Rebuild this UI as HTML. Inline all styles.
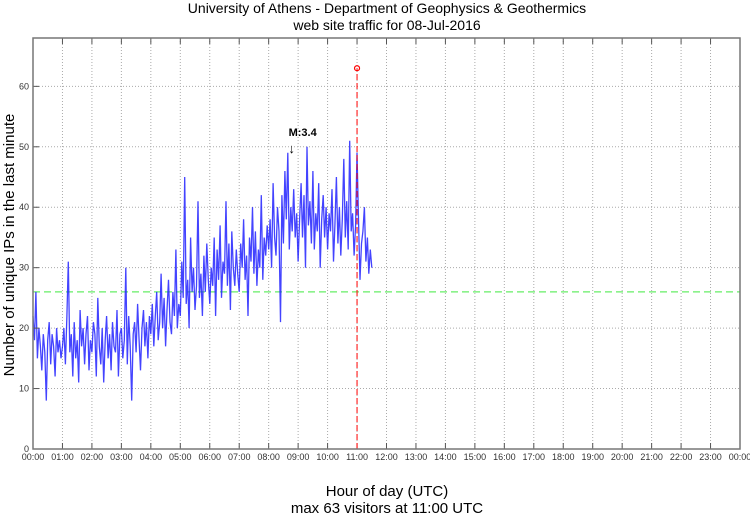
<!DOCTYPE html>
<html><head><meta charset="utf-8"><style>
body{margin:0;background:#fff;}
svg{display:block;font-family:"Liberation Sans",sans-serif;}
</style></head><body>
<svg id="chart" width="750" height="515">
<text x="387" y="13" font-size="14" text-anchor="middle">University of Athens - Department of Geophysics &amp; Geothermics</text>
<text x="387" y="30" font-size="14" text-anchor="middle">web site traffic for 08-Jul-2016</text>
<text transform="translate(14,245) rotate(-90)" font-size="15" text-anchor="middle">Number of unique IPs in the last minute</text>
<text x="387" y="496" font-size="15" text-anchor="middle">Hour of day (UTC)</text>
<text x="387" y="513" font-size="15" text-anchor="middle">max 63 visitors at 11:00 UTC</text>
<g id="grid"></g><g id="series"></g><g id="axes"></g>
</svg>
<script>
const yTicks=[0,10,20,30,40,50,60];
const xHours=[0,1,2,3,4,5,6,7,8,9,10,11,12,13,14,15,16,17,18,19,20,21,22,23,24];
const xLabels=["00:00","01:00","02:00","03:00","04:00","05:00","06:00","07:00","08:00","09:00","10:00","11:00","12:00","13:00","14:00","15:00","16:00","17:00","18:00","19:00","20:00","21:00","22:00","23:00","00:00"];
const stepMinutes=3;
const visitors=[
22,18,26,15,20,17,13,19,16,8,18,21,14,19,17,12,20,16,18,15,
17,20,14,22,31,16,19,12,21,15,18,11,23,17,20,14,19,22,13,18,
16,21,19,12,25,17,14,20,11,18,22,15,19,13,21,17,16,23,12,19,
20,15,18,30,14,22,17,8,19,21,16,24,18,13,20,23,17,21,15,22,
19,24,17,22,26,18,21,29,20,25,17,23,28,21,19,26,22,33,20,24,
22,31,25,45,24,28,20,35,26,30,23,27,41,25,29,22,32,26,34,28,
24,30,27,35,22,33,28,37,25,31,29,41,27,34,23,36,30,27,33,29,
26,34,30,38,28,32,22,35,31,40,29,36,27,33,30,42,28,35,32,37,
33,38,30,44,35,32,40,36,21,42,34,46,38,49,33,40,36,43,35,39,
31,38,44,35,42,30,50,37,41,34,46,33,39,36,44,30,38,42,35,40,
33,39,36,43,31,37,45,34,40,32,38,48,35,41,33,51,36,39,32,37,
49,38,28,34,36,40,31,35,29,33,30];
const meanLevel=[26];
const maxValue=[63];
const maxHour=[11];
const eventHour=[8.78];
const eventLabel=["M:3.4"];
const L=33,R=740,T=38,B=449,YMAX=68;
const xs=h=>L+(R-L)*h/24;
const ys=v=>B-(B-T)*v/YMAX;
const NS="http://www.w3.org/2000/svg";
function mk(tag,parent,attrs){const e=document.createElementNS(NS,tag);for(const k in attrs)e.setAttribute(k,attrs[k]);parent.appendChild(e);return e;}
const grid=document.getElementById('grid'),ser=document.getElementById('series'),ax=document.getElementById('axes');
yTicks.forEach(v=>{if(v>0){const l=mk('line',grid,{x1:L,x2:R,y1:ys(v),y2:ys(v),stroke:'#aaa','stroke-dasharray':'1,2'});

}
const t=mk('text',ax,{x:L-4,y:ys(v)+3,'font-size':9,'text-anchor':'end',fill:'#333'});t.textContent=v;


mk('line',ax,{x1:L,x2:L+6,y1:ys(v),y2:ys(v),stroke:'#555'});});
xHours.forEach((h,i)=>{if(h>0&&h<24){const l=mk('line',grid,{x1:xs(h),x2:xs(h),y1:T,y2:B,stroke:'#aaa','stroke-dasharray':'1,2'});

}
mk('line',ax,{x1:xs(h),x2:xs(h),y1:B,y2:B-6,stroke:h===maxHour[0]?'#f00':'#555'});
mk('line',ax,{x1:xs(h),x2:xs(h),y1:T,y2:T+6,stroke:'#555'});
const t=mk('text',ax,{x:xs(h),y:B+11,'font-size':9,'text-anchor':'middle',fill:'#333'});t.textContent=xLabels[i];

});
const box=mk('rect',ax,{x:L,y:T,width:R-L,height:B-T,fill:'none',stroke:'#777','stroke-width':1.5});


const mean=mk('line',ser,{x1:L,x2:R,y1:ys(meanLevel[0]),y2:ys(meanLevel[0]),stroke:'#6e6','stroke-dasharray':'7,4','stroke-width':1.2});


const pts=visitors.map((v,i)=>xs(i*stepMinutes/60).toFixed(1)+','+ys(v).toFixed(1)).join(' ');
const line=mk('polyline',ser,{points:pts,fill:'none',stroke:'#22f','stroke-width':1.3,'stroke-opacity':0.85});


const mx=mk('line',ser,{x1:xs(maxHour[0]),x2:xs(maxHour[0]),y1:B,y2:ys(maxValue[0]),stroke:'#f00','stroke-dasharray':'6,3'});


const c=mk('circle',ser,{cx:xs(maxHour[0]),cy:ys(maxValue[0]),r:2.5,fill:'none',stroke:'#f00','stroke-width':1.2});


const et=mk('text',ser,{x:xs(eventHour[0])+11,y:ys(50)-11,'font-size':11,'font-weight':'bold','text-anchor':'middle'});et.textContent=eventLabel[0];


const ar=mk('text',ser,{x:xs(eventHour[0]),y:ys(49),'font-size':13,'text-anchor':'middle'});ar.textContent='↓';


</script>
</body></html>
